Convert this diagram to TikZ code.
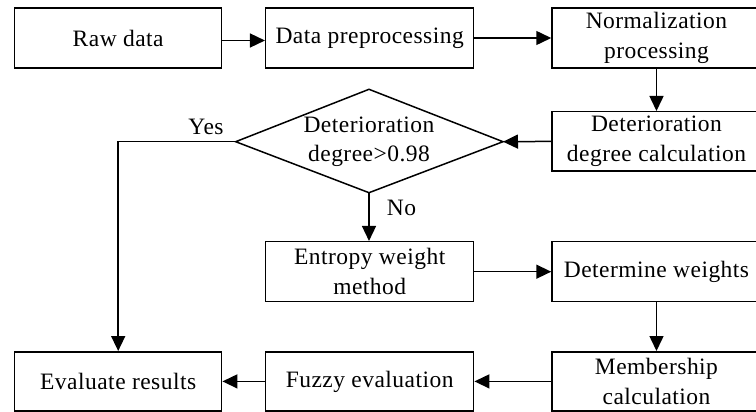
\documentclass[tikz,border=0pt]{standalone}
\usepackage{fontspec}
\setmainfont{Liberation Serif}[LetterSpace=2.0]
\usetikzlibrary{arrows.meta}
\begin{document}
\begin{tikzpicture}[x=1pt,y=-1pt,
  txt/.style={font=\fontsize{23.5}{29.5}\selectfont},
  box/.style={txt, draw, line width=1.5pt, minimum width=208pt, minimum height=60pt, inner sep=0pt, align=center},
  arr/.style={line width=1.5pt, -{Triangle[length=15pt,width=14pt]}},
  lbl/.style={txt, inner sep=0pt}]
\useasboundingbox (0,0) rectangle (756,412);
\clip (0,0) rectangle (756,412);
% top row
\node[box, minimum width=207pt] (raw) at (118.2,38) {Raw data};
\node[box] (data) at (369.7,38) {Data preprocessing};
\node[box, minimum width=209pt] (norm) at (656.5,38) {Normalization\\processing};
% second row
\node[box, minimum width=209pt, minimum height=59.3pt] (calc) at (656.5,141.4) {Deterioration\\degree calculation};
\coordinate (dN) at (369,89.3);
\coordinate (dE) at (503,141.7);
\coordinate (dS) at (369,192.7);
\coordinate (dW) at (235.7,141.7);
\draw[line width=1.5pt, line join=miter] (dN) -- (dE) -- (dS) -- (dW) -- cycle;
\node[txt, align=center, inner sep=0pt] (diatext) at (369,141.7) {Deterioration\\degree>0.98};
% third row
\node[box] (ent) at (369.7,271.7) {Entropy weight\\method};
\node[box, minimum width=209pt] (det) at (656.5,271.7) {Determine weights};
% bottom row
\node[box, minimum width=209pt, minimum height=59.3pt] (mem) at (656.5,381.4) {Membership\\calculation};
\node[box, minimum height=59.3pt] (fuz) at (369.7,381.4) {Fuzzy evaluation};
\node[box, minimum width=207pt, minimum height=59.3pt] (eval) at (118.2,381.4) {Evaluate results};
% labels
\node[lbl] (yes) at (206,126.5) {Yes};
\node[lbl] (no) at (401.5,207.5) {No};
% connectors
\draw[arr] ([yshift=-2.5pt]raw.east) -- ([yshift=-2.5pt]data.west);
\draw[arr] (data.east) -- (norm.west);
\draw[arr] (norm.south) -- (calc.north);
\draw[arr] (calc.west) -- (dE);
\draw[arr] (dS) -- (dS |- ent.north);
\draw[arr] (ent.east) -- (det.west);
\draw[arr] (det.south) -- (mem.north);
\draw[arr] (mem.west) -- (fuz.east);
\draw[arr] (fuz.west) -- (eval.east);
\draw[arr] (dW) -| (eval.north);
\end{tikzpicture}
\end{document}
